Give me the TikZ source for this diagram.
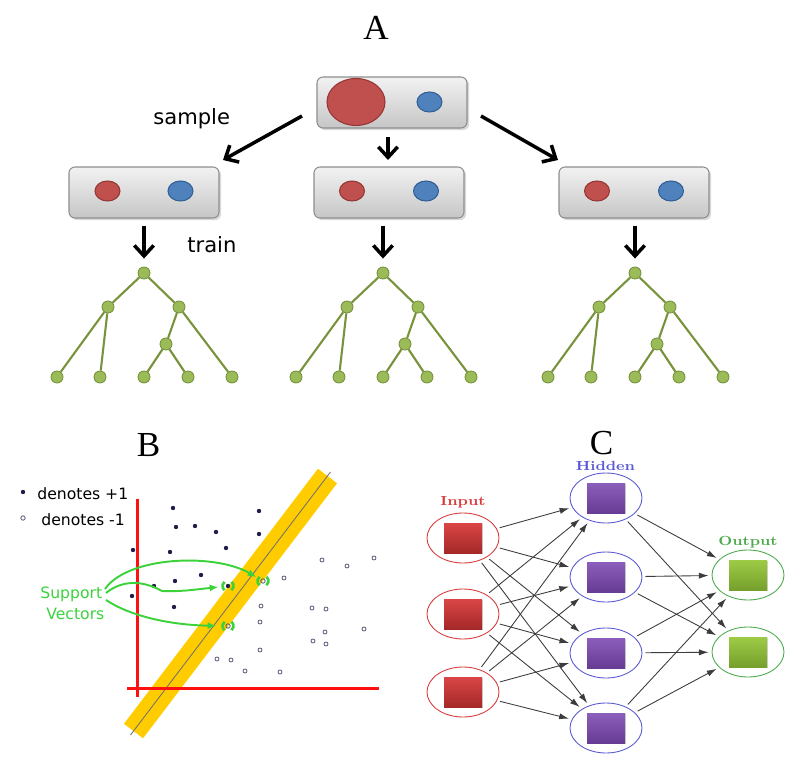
\documentclass[tikz,border=0pt]{standalone}
\usepackage{fontspec}
\newfontfamily\dvsans{DejaVu Sans}
\newfontfamily\libserif{Liberation Serif}
\usetikzlibrary{arrows.meta,shadows,shapes.geometric}
\newlength\pxu
\setlength\pxu{0.02cm}
\definecolor{boxborder}{HTML}{8E8E8E}
\definecolor{boxtop}{HTML}{F2F2F2}
\definecolor{boxbot}{HTML}{C6C6C6}
\definecolor{redc}{HTML}{C0504D}
\definecolor{redb}{HTML}{943634}
\definecolor{bluec}{HTML}{4F81BD}
\definecolor{blueb}{HTML}{2F5F94}
\definecolor{leaf}{HTML}{9BBB59}
\definecolor{leafb}{HTML}{76923C}
\definecolor{edgeg}{HTML}{77933C}
\definecolor{svgreen}{HTML}{3CD23C}
\definecolor{bandc}{HTML}{FFCC00}
\definecolor{navy}{HTML}{1E1E4A}
\definecolor{axisred}{HTML}{FF1010}
\definecolor{inred}{HTML}{D83C3C}
\definecolor{hidblue}{HTML}{5A5AD2}
\definecolor{outgreen}{HTML}{4CAA4C}
\definecolor{sqred1}{HTML}{DA4646}
\definecolor{sqred2}{HTML}{A52828}
\definecolor{sqpur1}{HTML}{8C5EBC}
\definecolor{sqpur2}{HTML}{673C94}
\definecolor{sqgrn1}{HTML}{9DCB45}
\definecolor{sqgrn2}{HTML}{76A02C}
\definecolor{nngray}{HTML}{3C3C3C}
\tikzset{
  panellabel/.style={font=\libserif\fontsize{20}{24}\selectfont, anchor=base, inner sep=0},
  sanslabel/.style={font=\dvsans\fontsize{12}{14}\selectfont, anchor=base west, inner sep=0},
  smalllabel/.style={font=\dvsans\fontsize{8.9}{10}\selectfont, anchor=base west, inner sep=0},
  samplebox/.style={draw=boxborder, line width=0.6pt, rounded corners=6\pxu, top color=boxtop, bottom color=boxbot, minimum width=150\pxu, minimum height=51\pxu, inner sep=0, drop shadow={opacity=0.3, shadow xshift=1.2pt, shadow yshift=-1.2pt}},
  redball/.style={ellipse, fill=redc, draw=redb, line width=0.6pt, inner sep=0, minimum width=25\pxu, minimum height=20\pxu},
  blueball/.style={ellipse, fill=bluec, draw=blueb, line width=0.6pt, inner sep=0, minimum width=25\pxu, minimum height=20\pxu},
  bigarrow/.style={line width=2pt, -{Straight Barb[length=6pt,width=11pt]}},
  tnode/.style={circle, fill=leaf, draw=leafb, line width=0.5pt, minimum size=12\pxu, inner sep=0},
  tedge/.style={draw=edgeg, line width=1.2pt},
  posdot/.style={circle, fill=navy, minimum size=4.4\pxu, inner sep=0},
  negdot/.style={circle, draw=navy!75, line width=0.45pt, minimum size=4.4\pxu, inner sep=0},
  svarrow/.style={draw=svgreen, line width=1.1pt, -{Latex[length=5pt,width=4pt]}},
  svparen/.style={draw=svgreen, line width=1.5pt},
  nnell/.style={ellipse, line width=0.5pt, minimum width=72\pxu, minimum height=50\pxu, inner sep=0},
  inell/.style={nnell, draw=inred},
  hidell/.style={nnell, draw=hidblue},
  outell/.style={nnell, draw=outgreen},
  sq/.style={rectangle, minimum width=38\pxu, minimum height=30\pxu, inner sep=0, drop shadow={opacity=0.35, shadow xshift=0.8pt, shadow yshift=-0.8pt}},
  redsq/.style={sq, top color=sqred1, bottom color=sqred2},
  pursq/.style={sq, top color=sqpur1, bottom color=sqpur2},
  grnsq/.style={sq, top color=sqgrn1, bottom color=sqgrn2},
  nnarrow/.style={draw=nngray, line width=0.5pt, -{Latex[length=5.5pt,width=3.5pt]}, shorten <=3\pxu, shorten >=3\pxu},
  layerlabel/.style={font=\bfseries\fontsize{7.5}{9}\selectfont, anchor=base, inner sep=0}
}
\newcommand{\dtree}[2]{%
  \node[tnode] (#2r) at (#1,273) {};
  \node[tnode] (#2a) at (#1-36,307) {};
  \node[tnode] (#2b) at (#1+35,307) {};
  \node[tnode] (#2c) at (#1+22,344) {};
  \node[tnode] (#2l1) at (#1-87,377) {};
  \node[tnode] (#2l2) at (#1-44,377) {};
  \node[tnode] (#2l3) at (#1,377) {};
  \node[tnode] (#2l4) at (#1+44,377) {};
  \node[tnode] (#2l5) at (#1+88,377) {};
  \draw[tedge] (#2r) -- (#2a);
  \draw[tedge] (#2r) -- (#2b);
  \draw[tedge] (#2a) -- (#2l1);
  \draw[tedge] (#2a) -- (#2l2);
  \draw[tedge] (#2b) -- (#2c);
  \draw[tedge] (#2b) -- (#2l5);
  \draw[tedge] (#2c) -- (#2l3);
  \draw[tedge] (#2c) -- (#2l4);
}
\newcommand{\svparens}[1]{%
  \draw[svparen] ([shift={(130:5.5)}]#1) arc (130:230:5.5);
  \draw[svparen] ([shift={(-50:5.5)}]#1) arc (-50:50:5.5);
}
\begin{document}
\begin{tikzpicture}[x=0.02cm,y=-0.02cm]
\useasboundingbox (0,0) rectangle (800,766);
% ---------------- Panel A ----------------
\node[panellabel] (labA) at (376,40) {A};
\node[samplebox] (top) at (392,102.5) {};
\node[redball, minimum width=58\pxu, minimum height=47\pxu] (bigred) at (356,102) {};
\node[blueball] (topblue) at (429.5,102) {};
\node[samplebox] (lbox) at (144,192.5) {};
\node[redball] (lred) at (107.5,191) {};
\node[blueball] (lblue) at (180.5,191) {};
\node[samplebox] (mbox) at (389,192.5) {};
\node[redball] (mred) at (352,191) {};
\node[blueball] (mblue) at (426,191) {};
\node[samplebox] (rbox) at (634,192.5) {};
\node[redball] (rred) at (597,191) {};
\node[blueball] (rblue) at (671,191) {};
\coordinate (a1s) at (302,116);
\coordinate (a1e) at (223,160);
\coordinate (a2s) at (388,137);
\coordinate (a2e) at (388,160);
\coordinate (a3s) at (481,116);
\coordinate (a3e) at (558,160);
\draw[bigarrow] (a1s) -- (a1e);
\draw[bigarrow] (a2s) -- (a2e);
\draw[bigarrow] (a3s) -- (a3e);
\node[sanslabel] (samplelab) at (153,125) {sample};
\node[sanslabel] (trainlab) at (187,252.5) {train};
\dtree{144}{L}
\dtree{383}{M}
\dtree{635}{R}
\draw[bigarrow, shorten <=7\pxu, shorten >=8\pxu] (lbox.south) -- (Lr);
\draw[bigarrow, shorten <=7\pxu, shorten >=8\pxu] (mbox.south -| Mr) -- (Mr);
\draw[bigarrow, shorten <=7\pxu, shorten >=8\pxu] (rbox.south -| Rr) -- (Rr);
% ---------------- Panel B ----------------
\node[panellabel] (labB) at (148.5,456) {B};
\draw[bandc, line width=24\pxu] (133.5,731) -- (327.5,476);
\draw[black!55, line width=0.5pt] (130.5,735) -- (330.5,472);
\draw[axisred, line width=3\pxu] (137,499) -- (137,697);
\draw[axisred, line width=3\pxu] (127,688) -- (379,688);
\node[posdot] (legpos) at (23,492) {};
\node[negdot] (legneg) at (23,518) {};
\node[smalllabel] (legposlab) at (37,499) {denotes +1};
\node[smalllabel] (legneglab) at (41,525) {denotes -1};
\foreach \p in {(173,508),(259,511),(176,527),(195,526),(216,532),(259,534),(133,550),(170,552),(226,548),(201,575),(175,581),(154,586),(132,596),(174,607)}
  \fill[navy] \p circle (2.2);
\foreach \p in {(322,560),(347,566),(374,558),(284,578),(261,606),(312,608),(326,609),(260,622),(325,632),(364,629),(313,641),(326,644),(260,650),(217,659),(231,660),(245,671),(280,672)}
  \draw[navy!75, line width=0.45pt] \p circle (2);
\node[posdot] (sv1) at (228,586) {};
\node[negdot] (sv2) at (263,581) {};
\node[negdot] (sv3) at (228,626) {};
\svparens{sv1}
\svparens{sv2}
\svparens{sv3}
\node[smalllabel, text=svgreen] (svlab1) at (40,598) {Support};
\node[smalllabel, text=svgreen] (svlab2) at (46,619.5) {Vectors};
\coordinate (sva) at (105,589);
\coordinate (svb) at (106,593);
\coordinate (svc) at (106,600);
\draw[svarrow, shorten >=5\pxu] (sva) .. controls (128,556) and (215,553) .. (sv2);
\draw[svarrow, shorten >=7\pxu] (svb) .. controls (122,580) and (142,580) .. (162,591) .. controls (180,592) and (200,589) .. (sv1);
\draw[svarrow, shorten >=9\pxu] (svc) .. controls (130,616) and (170,625) .. (sv3);
% ---------------- Panel C ----------------
\node[panellabel] (labC) at (601.5,454) {C};
\node[inell] (i1) at (463,538) {};
\node[inell] (i2) at (463,614) {};
\node[inell] (i3) at (463,692) {};
\node[hidell] (h1) at (606,498) {};
\node[hidell] (h2) at (606,577) {};
\node[hidell] (h3) at (606,653) {};
\node[hidell] (h4) at (606,728) {};
\node[outell] (o1) at (748,575) {};
\node[outell] (o2) at (748,652) {};
\foreach \k in {1,2,3} \node[redsq] (i\k s) at (i\k) {};
\foreach \k in {1,2,3,4} \node[pursq] (h\k s) at (h\k) {};
\foreach \k in {1,2} \node[grnsq] (o\k s) at (o\k) {};
\foreach \a in {1,2,3} \foreach \b in {1,2,3,4} \draw[nnarrow] (i\a) -- (h\b);
\foreach \a in {1,2,3,4} \foreach \b in {1,2} \draw[nnarrow] (h\a) -- (o\b);
\node[layerlabel, text=inred] (inlab) at (463,505) {\scalebox{1.15}[1]{Input}};
\node[layerlabel, text=hidblue] (hidlab) at (605.5,470.5) {\scalebox{1.15}[1]{Hidden}};
\node[layerlabel, text=outgreen] (outlab) at (748,545) {\scalebox{1.15}[1]{Output}};
\end{tikzpicture}
\end{document}
